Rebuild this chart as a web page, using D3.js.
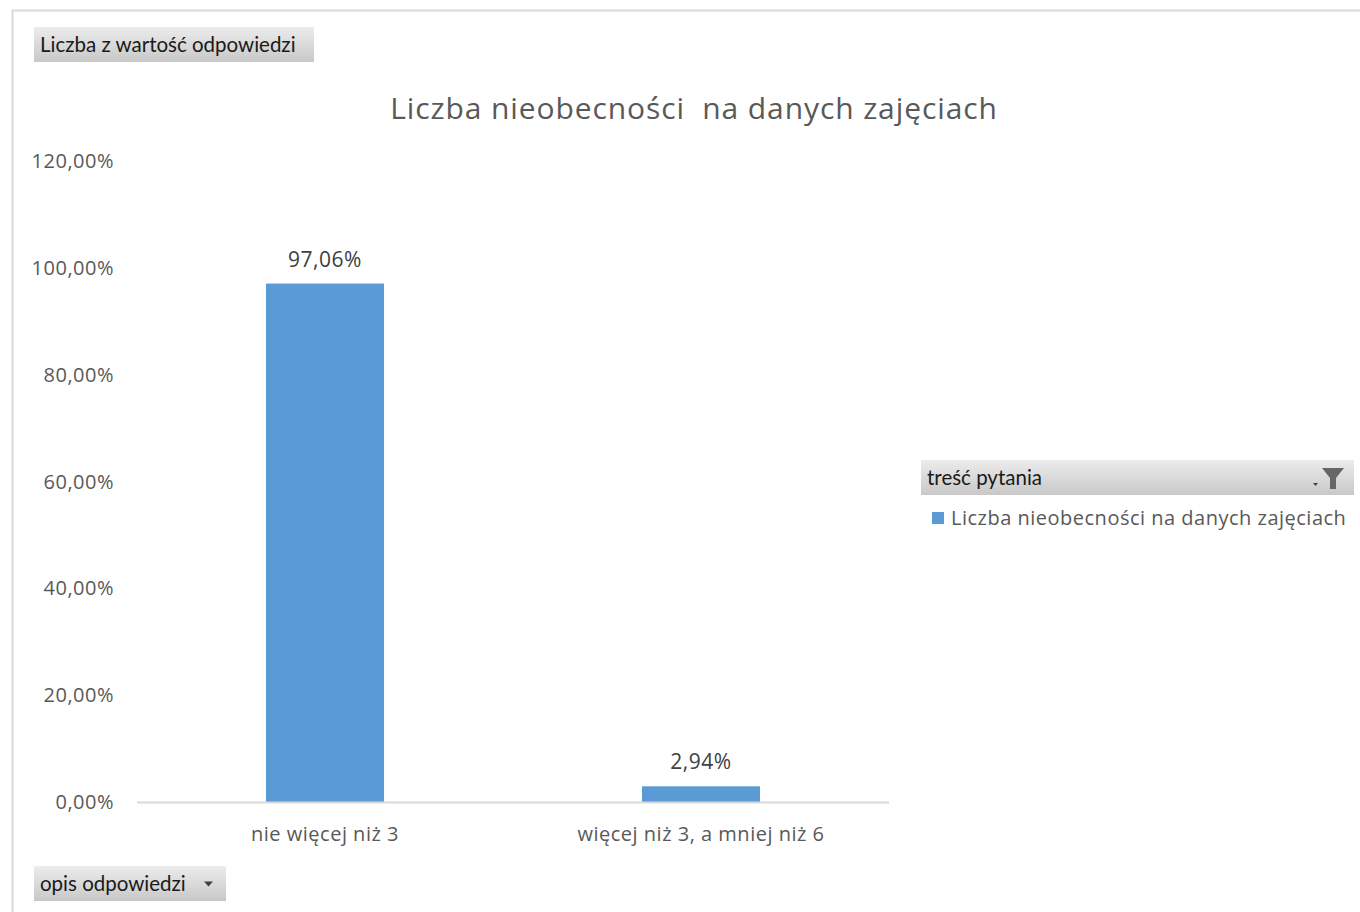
<!DOCTYPE html>
<html><head><meta charset="utf-8">
<script src="https://cdn.jsdelivr.net/npm/d3@7"></script>
<style>body{margin:0;background:#fff;} svg{display:block;} text{white-space:pre;}</style>
</head><body>
<svg id="c" width="1360" height="912"></svg>
<script>
const categories = ["nie więcej niż 3", "więcej niż 3, a mniej niż 6"];
const values = [0.9706, 0.0294];
const valueLabels = ["97,06%", "2,94%"];
const yTicks = [0, 0.2, 0.4, 0.6, 0.8, 1.0, 1.2];
const title = "Liczba nieobecności  na danych zajęciach";
const seriesName = "Liczba nieobecności na danych zajęciach";
const valueField = "Liczba z wartość odpowiedzi";
const axisField = "opis odpowiedzi";
const legendField = "treść pytania";

const svg = d3.select("#c");
const font = "'Open Sans', 'Noto Sans', sans-serif";
const btnFont = "Lato, 'Open Sans', sans-serif";
const textColor = "#595959";

const defs = svg.append("defs");
const g = defs.append("linearGradient").attr("id","btn").attr("x1",0).attr("y1",0).attr("x2",0).attr("y2",1);
g.append("stop").attr("offset","0%").attr("stop-color","#ececec");
g.append("stop").attr("offset","100%").attr("stop-color","#c8c8c8");

// outer border
svg.append("rect").attr("x",12.5).attr("y",10.5).attr("width",1360).attr("height",920)
  .attr("fill","none").attr("stroke","#d9d9d9").attr("stroke-width",2);

const plot = {left:137, right:889, top:161, bottom:802};
const x = d3.scaleBand().domain(categories).range([plot.left, plot.right]).paddingInner(0.686).paddingOuter(0.343);
const y = d3.scaleLinear().domain([0, 1.2]).range([plot.bottom, plot.top]);

// y axis labels
const fmt = v => d3.format(".2f")(v*100).replace(".", ",") + "%";
svg.append("g").selectAll("text").data(yTicks).join("text")
  .attr("x", 114).attr("y", d => y(d)).attr("dy","0.35em")
  .attr("text-anchor","end").attr("font-family",font).attr("font-size",20).attr("letter-spacing",0.5).attr("fill",textColor)
  .text(fmt);

// bars
svg.append("g").selectAll("rect").data(values).join("rect")
  .attr("x",(d,i)=>x(categories[i])).attr("width",x.bandwidth())
  .attr("y",d=>y(d)).attr("height",d=>y(0)-y(d)).attr("fill","#5b9bd5");

// value labels
svg.append("g").selectAll("text").data(values).join("text")
  .attr("x",(d,i)=>x(categories[i])+x.bandwidth()/2).attr("y",d=>y(d)-17)
  .attr("text-anchor","middle").attr("font-family",font).attr("font-size",21).attr("letter-spacing",0.5).attr("fill","#404040")
  .text((d,i)=>valueLabels[i]);

// baseline
svg.append("line").attr("x1",plot.left).attr("x2",plot.right).attr("y1",y(0)+0.5).attr("y2",y(0)+0.5)
  .attr("stroke","#d9d9d9").attr("stroke-width",2);

// x axis labels
const xAxis = d3.axisBottom(x).tickSize(0).tickPadding(0);
const xg = svg.append("g").attr("transform",`translate(0,${plot.bottom})`).call(xAxis);
xg.select(".domain").remove();
xg.selectAll("text").attr("y",32).attr("dy","0.35em").attr("font-family",font).attr("font-size",20).attr("letter-spacing",0.5).attr("fill",textColor);

// title
svg.append("text").attr("x",694).attr("y",108).attr("dy","0.35em").attr("text-anchor","middle")
  .attr("font-family",font).attr("font-size",30).attr("letter-spacing",0.9).attr("fill",textColor).text(title);

// field buttons
function button(x0,y0,w,h,label,arrow){
  svg.append("rect").attr("x",x0).attr("y",y0).attr("width",w).attr("height",h).attr("fill","url(#btn)");
  svg.append("text").attr("x",x0+6).attr("y",y0+h/2).attr("dy","0.35em")
    .attr("font-family",btnFont).attr("font-size",20.5).attr("fill","#1a1a1a").text(label);
  if(arrow){
    svg.append("path").attr("d",`M${x0+w-22},${y0+h/2-2} l9,0 l-4.5,5 z`).attr("fill","#404040");
  }
}
button(34,27,280,35,valueField,false);
button(34,866,192,35,axisField,true);
button(921,460,433,35,legendField,false);
// filter icon
svg.append("path").attr("d","M1322,468 L1344,468 L1336,478 L1336,489 L1330,489 L1330,478 Z").attr("fill","#666");
svg.append("path").attr("d","M1313,483 l5,0 l-2.5,3 z").attr("fill","#404040");

// legend item
svg.append("rect").attr("x",932).attr("y",512).attr("width",12).attr("height",12).attr("fill","#5b9bd5");
svg.append("text").attr("x",951).attr("y",518).attr("dy","0.35em")
  .attr("font-family",font).attr("font-size",20).attr("letter-spacing",0.5).attr("fill",textColor).text(seriesName);
</script>
</body></html>
